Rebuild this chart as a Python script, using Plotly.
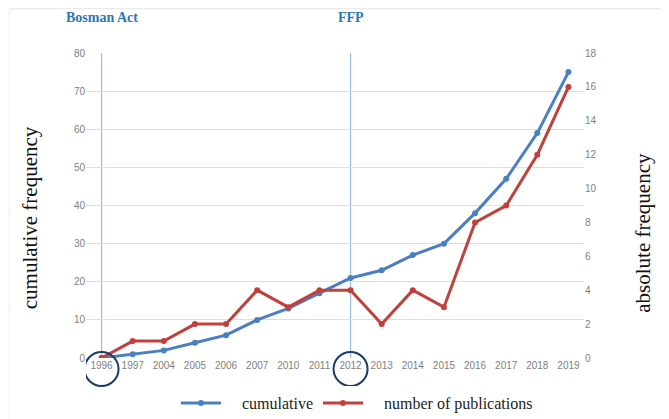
import plotly.graph_objects as go

years = ["1996", "1997", "2004", "2005", "2006", "2007", "2010", "2011",
         "2012", "2013", "2014", "2015", "2016", "2017", "2018", "2019"]
cumulative = [0, 1, 2, 4, 6, 10, 13, 17, 21, 23, 27, 30, 38, 47, 59, 75]
publications = [0, 1, 1, 2, 2, 4, 3, 4, 4, 2, 4, 3, 8, 9, 12, 16]
left_ticks = [0, 10, 20, 30, 40, 50, 60, 70, 80]
right_ticks = [0, 2, 4, 6, 8, 10, 12, 14, 16, 18]
events = [("1996", "Bosman Act"), ("2012", "FFP")]

BLUE = "#4a7fc1"
RED = "#c0403c"
NAVY = "#1f3a68"
EVENT = "#2e75b6"
VLINE = "#9dbbe0"
SERIF = "Liberation Serif, Times New Roman, serif"
PAD = "\u00a0\u00a0\u00a0\u00a0"

fig = go.Figure()
fig.add_trace(go.Scatter(
    x=years, y=cumulative, name=PAD + "cumulative", mode="lines+markers",
    line=dict(color=BLUE, width=3), marker=dict(color=BLUE, size=6),
    yaxis="y"))
fig.add_trace(go.Scatter(
    x=years, y=publications, name=PAD + "number of publications", mode="lines+markers",
    line=dict(color=RED, width=3), marker=dict(color=RED, size=6),
    yaxis="y2"))

shapes = []
annotations = []
for yr, label in events:
    xi = years.index(yr)
    shapes.append(dict(type="line", xref="x", yref="y", x0=xi, x1=xi, y0=0, y1=80,
                       line=dict(color=VLINE, width=1.2), layer="below"))
    shapes.append(dict(type="circle", xref="x", yref="paper", xsizemode="pixel",
                       ysizemode="pixel", xanchor=xi, yanchor=0,
                       x0=-17, x1=17, y0=-28, y1=6,
                       line=dict(color=NAVY, width=2)))
    annotations.append(dict(x=xi, y=1.115, xref="x", yref="paper", text="<b>%s</b>" % label,
                            showarrow=False, xanchor="center", yanchor="middle",
                            font=dict(family=SERIF, size=14, color=EVENT)))

# axis titles
annotations.append(dict(x=-0.112, y=0.459, xref="paper", yref="paper",
                        text="cumulative frequency", textangle=-90, showarrow=False,
                        xanchor="center", yanchor="middle",
                        font=dict(family=SERIF, size=21, color="#111111")))
annotations.append(dict(x=1.118, y=0.41, xref="paper", yref="paper",
                        text="absolute frequency", textangle=-90, showarrow=False,
                        xanchor="center", yanchor="middle",
                        font=dict(family=SERIF, size=21, color="#111111")))

# light frame lines at top and left of the picture
shapes.append(dict(type="line", xref="paper", yref="paper", x0=-0.154, x1=1.2,
                   y0=1.145, y1=1.145, line=dict(color="#e3e3e3", width=1)))
shapes.append(dict(type="line", xref="paper", yref="paper", x0=-0.154, x1=-0.154,
                   y0=-0.2, y1=1.145, line=dict(color="#eeeeee", width=1)))

fig.update_layout(
    width=661, height=411,
    margin=dict(l=78, r=85, t=45, b=61, autoexpand=False),
    paper_bgcolor="white", plot_bgcolor="white",
    showlegend=True,
    legend=dict(orientation="h", x=0.544, y=-0.148, xanchor="center", yanchor="middle",
                font=dict(family=SERIF, size=16, color="#222222"),
                itemwidth=40, tracegroupgap=0),
    xaxis=dict(type="category", showgrid=False, zeroline=False, showline=False,
               ticks="", tickfont=dict(family="Liberation Sans", size=10, color="#7f7f7f"),
               range=[-0.5, 15.5]),
    yaxis=dict(range=[0, 80], tickvals=left_ticks, showgrid=True, gridcolor="#dedede",
               gridwidth=1, zeroline=False, showline=False, ticks="",
               tickfont=dict(family="Liberation Sans", size=10, color="#7f7f7f")),
    yaxis2=dict(range=[0, 18], tickvals=right_ticks, overlaying="y", side="right",
                showgrid=False, zeroline=False, showline=False, ticks="",
                tickfont=dict(family="Liberation Sans", size=10, color="#7f7f7f")),
    shapes=shapes,
    annotations=annotations,
)

fig.write_html("out.html")
